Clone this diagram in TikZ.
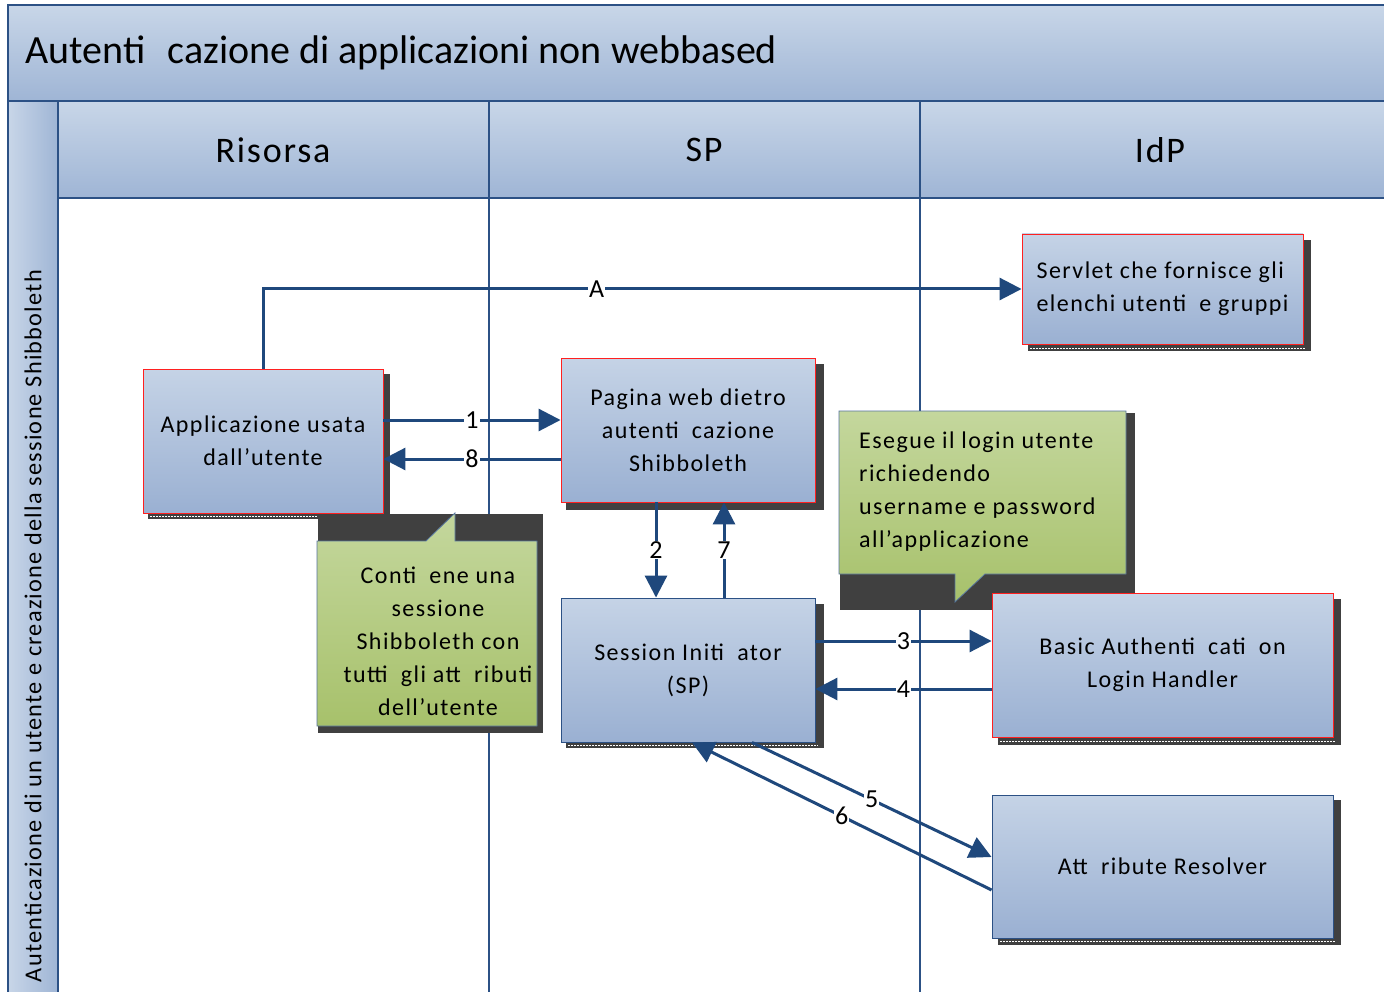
\documentclass[tikz,border=0pt]{standalone}
\usepackage{fontspec}
\setmainfont{Carlito}
\newfontfamily\bx[LetterSpace=6]{Carlito}
\newfontfamily\hx[LetterSpace=5]{Carlito}
\usetikzlibrary{arrows.meta,calc}
\definecolor{frameblue}{HTML}{2C5185}
\definecolor{lineblue}{HTML}{1F487C}
\definecolor{hdtop}{HTML}{C8D6E8}
\definecolor{hdbot}{HTML}{9FB5D5}
\definecolor{bxtop}{HTML}{C5D3E6}
\definecolor{bxbot}{HTML}{9AB0D2}
\definecolor{grtop}{HTML}{C4D79D}
\definecolor{grbot}{HTML}{A7C16B}
\definecolor{shd}{HTML}{404040}
\definecolor{redb}{HTML}{FF2020}
\newcommand\gp{\hspace{0.55em}}
\tikzset{
 boxstyle/.style={rectangle, top color=bxtop, bottom color=bxbot, line width=0.9pt, inner sep=0pt, align=center, font=\bx\fontsize{24}{33}\selectfont, text=black},
 redbox/.style={boxstyle, draw=redb},
 bluebox/.style={boxstyle, draw=frameblue},
 conn/.style={draw=lineblue, line width=3pt, -{Triangle[length=22pt,width=22pt]}},
 lbl/.style={fill=white, inner sep=1pt, font=\fontsize{26}{26}\selectfont, text=black},
 dashline/.style={draw=white, line width=0.8pt, dash pattern=on 1.5pt off 1.5pt},
 calloutshape/.style={top color=grtop, bottom color=grbot, draw=frameblue!80, line width=0.8pt},
 callouttext/.style={inner sep=0pt, font=\bx\fontsize{24}{33}\selectfont, text=black},
 lanetext/.style={font=\hx\fontsize{36}{36}\selectfont, text=black},
 framel/.style={draw=frameblue, line width=2.5pt},
 lanel/.style={draw=frameblue, line width=2pt},
}
\begin{document}
\begin{tikzpicture}[x=1pt,y=-1pt]
\useasboundingbox (0,0) rectangle (1384,992);
\fill[white] (0,0) rectangle (1384,992);
% title band and headers
\path[top color=hdtop, bottom color=hdbot] (8,5) rectangle (1384,101);
\path[top color=hdtop, bottom color=hdbot] (58,101) rectangle (1384,198);
\path[left color=hdtop, right color=hdbot] (8,101) rectangle (58,992);
\node[anchor=west, font=\fontsize{40}{40}\selectfont] (title) at (22,53) {Autenti\gp cazione di applicazioni non webbased};
\node[lanetext] (hris) at (273,150) {Risorsa};
\node[lanetext] (hsp) at (704,150) {SP};
\node[lanetext] (hidp) at (1160,150) {IdP};
\node[rotate=90, font=\hx\fontsize{24.3}{24.3}\selectfont] (vlab) at (33,626) {Autenticazione di un utente e creazione della sessione Shibboleth};
% lane lines
\draw[lanel] (489,101) -- (489,992);
\draw[lanel] (920,101) -- (920,992);
\draw[lanel] (58,198) -- (1384,198);
\draw[lanel] (58,101) -- (58,992);
\draw[framel] (8,101) -- (1384,101);
\draw[framel] (1390,5) -- (8,5) -- (8,1000);
% shadows
\fill[shd] (1028,240) rectangle (1311,351);
\draw[dashline] (1030,348) -- (1305,348);
\fill[shd] (148,374) rectangle (390,519);
\draw[dashline] (150,516) -- (384,516);
\fill[shd] (566,364) rectangle (824,510);
\fill[shd] (566,604) rectangle (824,748);
\draw[dashline] (568,745) -- (818,745);
\fill[shd] (998,599) rectangle (1341,745);
\draw[dashline] (1000,741) -- (1335,741);
\fill[shd] (998,800) rectangle (1341,945);
\draw[dashline] (1000,941) -- (1335,941);
\fill[shd] (318,514) rectangle (543,733);
\fill[shd] (840,413) rectangle (1135,610);
% boxes
\node[redbox, minimum width=281, minimum height=110, align=left] (srv) at (1162.5,289) {Servlet che fornisce gli\\elenchi utenti\gp e gruppi};
\node[redbox, minimum width=240, minimum height=144] (app) at (263,441) {Applicazione usata\\dall’utente};
\node[redbox, minimum width=254, minimum height=144] (pag) at (688,430) {Pagina web dietro\\autenti\gp cazione\\Shibboleth};
\node[bluebox, minimum width=254, minimum height=144] (ses) at (688,670) {Session Initi\gp ator\\(SP)};
\node[redbox, minimum width=341, minimum height=144] (bas) at (1162.5,665) {Basic Authenti\gp cati\gp on\\Login Handler};
\node[bluebox, minimum width=341, minimum height=143] (att) at (1162.5,866.5) {Att\gp ribute Resolver};
% callouts
\path[calloutshape] (317,541) -- (426,541) -- (455,513) -- (455,541) -- (537,541) -- (537,726) -- (317,726) -- cycle;
\node[callouttext, align=center] (c1) at (438,641) {Conti\gp ene una\\sessione\\Shibboleth con\\tutti\gp gli att\gp ributi\\dell’utente};
\path[calloutshape] (839,411) -- (1126,411) -- (1126,574) -- (985,574) -- (955,602) -- (955,574) -- (839,574) -- cycle;
\node[callouttext, align=left, anchor=west] (c2) at (859,492) {Esegue il login utente\\richiedendo\\username e password\\all’applicazione};
% helper coordinates
\coordinate (ya) at (0,420);
\coordinate (yb) at (0,459);
\coordinate (yc) at (0,641);
\coordinate (yd) at (0,689);
\coordinate (xa) at (656,0);
\coordinate (xb) at (724,0);
% connectors
\draw[conn] (app.north) |- node[lbl, pos=0.72] {A} (srv.west);
\draw[conn] (app.east |- ya) -- node[lbl] {1} (pag.west |- ya);
\draw[conn] (pag.west |- yb) -- node[lbl] {8} (app.east |- yb);
\draw[conn] (pag.south -| xa) -- node[lbl] {2} (ses.north -| xa);
\draw[conn] (ses.north -| xb) -- node[lbl] {7} (pag.south -| xb);
\draw[conn] (ses.east |- yc) -- node[lbl] {3} (bas.west |- yc);
\draw[conn] (bas.west |- yd) -- node[lbl] {4} (ses.east |- yd);
\draw[conn] ([xshift=64pt]ses.south) -- node[lbl] {5} ([yshift=9.5pt]att.west);
\draw[conn] ([yshift=-23.5pt]att.west) -- node[lbl] {6} ([xshift=4pt]ses.south);
\end{tikzpicture}
\end{document}
